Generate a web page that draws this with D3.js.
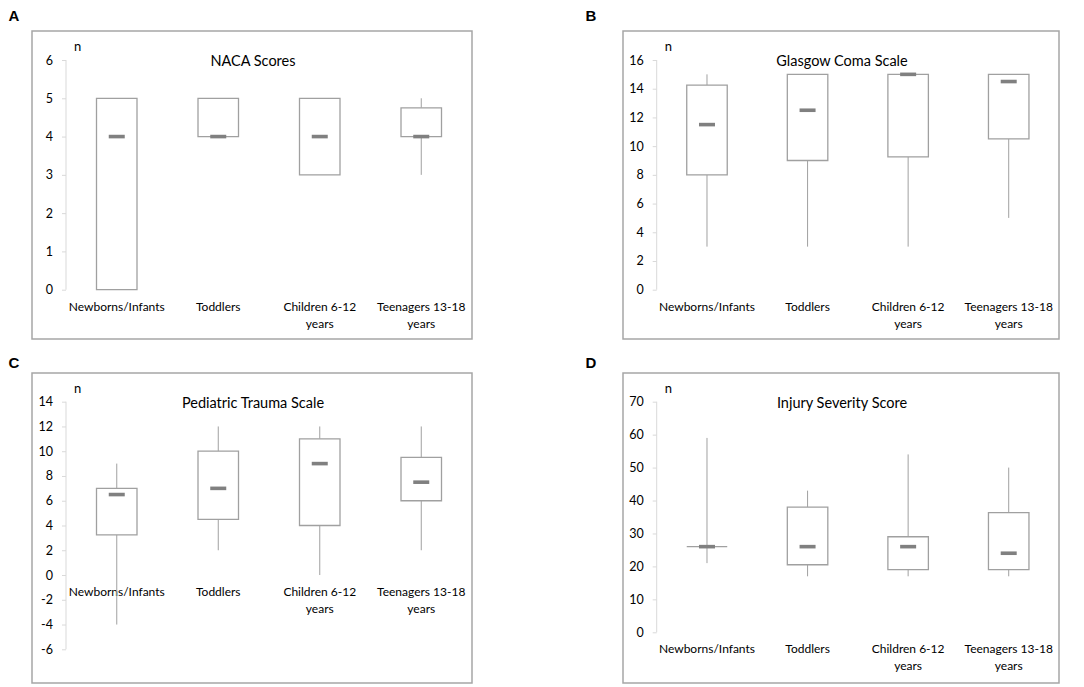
<!DOCTYPE html>
<html>
<head>
<meta charset="utf-8">
<script src="https://cdn.jsdelivr.net/npm/d3@7"></script>
<style>
  body { margin: 0; background: #fff; }
  svg { display: block; }
  text { font-family: Lato, "Open Sans", sans-serif; fill: #000; }
</style>
</head>
<body>
<svg id="chart" width="1084" height="687"></svg>
<script>
// categories shared by all four panels
const categories = [
  ["Newborns/Infants"],
  ["Toddlers"],
  ["Children 6-12", "years"],
  ["Teenagers 13-18", "years"]
];

// A - NACA
const nacaTicks = [0, 1, 2, 3, 4, 5, 6];
const nacaLow = [null, null, null, 3];
const nacaQ1 = [0, 4, 3, 4];
const nacaMed = [4, 4, 4, 4];
const nacaQ3 = [5, 5, 5, 4.75];
const nacaHigh = [null, null, null, 5];

// B - Glasgow Coma Scale
const gcsTicks = [0, 2, 4, 6, 8, 10, 12, 14, 16];
const gcsLow = [3, 3, 3, 5];
const gcsQ1 = [8, 9, 9.25, 10.5];
const gcsMed = [11.5, 12.5, 15, 14.5];
const gcsQ3 = [14.25, 15, 15, 15];
const gcsHigh = [15, 15, 15, 15];

// C - Pediatric Trauma Scale
const ptsTicks = [-6, -4, -2, 0, 2, 4, 6, 8, 10, 12, 14];
const ptsLow = [-4, 2, 0, 2];
const ptsQ1 = [3.25, 4.5, 4, 6];
const ptsMed = [6.5, 7, 9, 7.5];
const ptsQ3 = [7, 10, 11, 9.5];
const ptsHigh = [9, 12, 12, 12];

// D - Injury Severity Score
const issTicks = [0, 10, 20, 30, 40, 50, 60, 70];
const issLow = [21, 17, 17, 17];
const issQ1 = [26, 20.5, 19, 19];
const issMed = [26, 26, 26, 24];
const issQ3 = [26, 38, 29, 36.3];
const issHigh = [59, 43, 54, 50];

const panels = [
  { letter: "A", title: "NACA Scores", ticks: nacaTicks, low: nacaLow, q1: nacaQ1, med: nacaMed, q3: nacaQ3, high: nacaHigh,
    fx: 32, fy: 31, fw: 440, fh: 308, ax: 66, top: 60, bottom: 289.7, lx: 14, ly: 15 },
  { letter: "B", title: "Glasgow Coma Scale", ticks: gcsTicks, low: gcsLow, q1: gcsQ1, med: gcsMed, q3: gcsQ3, high: gcsHigh,
    fx: 623, fy: 31, fw: 436, fh: 308, ax: 656.7, top: 60, bottom: 289.7, lx: 591, ly: 15 },
  { letter: "C", title: "Pediatric Trauma Scale", ticks: ptsTicks, low: ptsLow, q1: ptsQ1, med: ptsMed, q3: ptsQ3, high: ptsHigh,
    fx: 32, fy: 373, fw: 440, fh: 310, ax: 66, top: 401.7, bottom: 649.3, lx: 14, ly: 362 },
  { letter: "D", title: "Injury Severity Score", ticks: issTicks, low: issLow, q1: issQ1, med: issMed, q3: issQ3, high: issHigh,
    fx: 623, fy: 373, fw: 436, fh: 310, ax: 656.7, top: 401.7, bottom: 632.3, lx: 591, ly: 362 }
];

const svg = d3.select("#chart");

function drawPanel(p) {
  const g = svg.append("g");

  // panel letter
  g.append("text")
    .attr("x", p.lx)
    .attr("y", p.ly)
    .attr("text-anchor", "middle")
    .attr("dominant-baseline", "central")
    .style("font-family", "'Liberation Sans', Arial, sans-serif")
    .style("font-weight", "bold")
    .style("font-size", "15px")
    .text(p.letter);

  // frame
  g.append("rect")
    .attr("x", p.fx)
    .attr("y", p.fy)
    .attr("width", p.fw)
    .attr("height", p.fh)
    .attr("fill", "none")
    .attr("stroke", "#a6a6a6")
    .attr("stroke-width", 1.5);

  const y = d3.scaleLinear()
    .domain(d3.extent(p.ticks))
    .range([p.bottom, p.top]);

  const x = d3.scaleBand()
    .domain(d3.range(categories.length))
    .range([p.ax, p.fx + p.fw]);

  // y axis
  const yAxis = d3.axisLeft(y).tickValues(p.ticks).tickSize(4).tickPadding(9);
  const ag = g.append("g")
    .attr("transform", `translate(${p.ax},0)`)
    .call(yAxis);
  ag.select(".domain").attr("stroke", "#d9d9d9").attr("d", `M0,${p.top}V${p.bottom}`);
  ag.selectAll(".tick line").attr("stroke", "#d9d9d9");
  ag.selectAll(".tick text")
    .style("font-family", "Lato, sans-serif")
    .style("font-size", "12.5px")
    .attr("fill", "#000")
    .text(d => d < 0 ? "-" + Math.abs(d) : d);

  // "n" label
  g.append("text")
    .attr("x", p.ax + 8)
    .attr("y", p.top - 9)
    .style("font-size", "13px")
    .text("n");

  // title
  g.append("text")
    .attr("x", p.fx + p.fw / 2 + 1)
    .attr("y", p.top + 6)
    .attr("text-anchor", "middle")
    .style("font-size", "14.5px")
    .text(p.title);

  // category labels, placed under the zero line
  const y0 = y(0);
  categories.forEach((lines, i) => {
    const t = g.append("text")
      .attr("text-anchor", "middle")
      .style("font-size", "12px");
    lines.forEach((s, k) => {
      t.append("tspan")
        .attr("x", x(i) + x.bandwidth() / 2)
        .attr("y", y0 + 21 + k * 17)
        .text(s);
    });
  });

  const boxW = 40.5;
  const cx = i => x(i) + x.bandwidth() / 2;

  categories.forEach((c, i) => {
    // whiskers
    if (p.low[i] !== null) {
      g.append("line")
        .attr("x1", cx(i)).attr("x2", cx(i))
        .attr("y1", y(p.low[i])).attr("y2", y(p.q1[i]))
        .attr("stroke", "#a0a0a0").attr("stroke-width", 1);
    }
    if (p.high[i] !== null && p.high[i] > p.q3[i]) {
      g.append("line")
        .attr("x1", cx(i)).attr("x2", cx(i))
        .attr("y1", y(p.q3[i])).attr("y2", y(p.high[i]))
        .attr("stroke", "#a0a0a0").attr("stroke-width", 1);
    }
    // box (drawn as a path so a zero-height box still shows as a line)
    const bx0 = cx(i) - boxW / 2, bx1 = cx(i) + boxW / 2;
    const by0 = y(p.q3[i]), by1 = y(p.q1[i]);
    g.append("path")
      .attr("d", `M${bx0},${by0}H${bx1}V${by1}H${bx0}Z`)
      .attr("fill", "#fff")
      .attr("stroke", "#a0a0a0")
      .attr("stroke-width", 1.3);
    // median
    g.append("rect")
      .attr("x", cx(i) - 8)
      .attr("y", y(p.med[i]) - 1.8)
      .attr("width", 16)
      .attr("height", 3.6)
      .attr("fill", "#808080");
  });
}

panels.forEach(drawPanel);
</script>
</body>
</html>
